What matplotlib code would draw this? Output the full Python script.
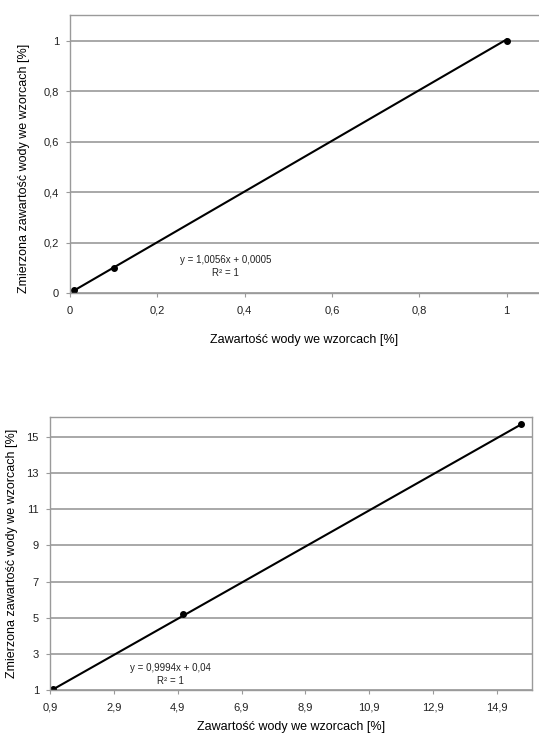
import matplotlib
matplotlib.use("Agg")
import matplotlib.pyplot as plt
import numpy as np
from matplotlib.ticker import FixedLocator, FuncFormatter

plt.rcParams['font.family'] = ['Liberation Sans Narrow', 'Liberation Sans', 'DejaVu Sans']

# Data - top chart
x1 = [0.01, 0.1, 1.0]
y1 = [0.01, 0.1, 1.0]
fit1 = (1.0056, 0.0005)
eq1 = ["y = 1,0056x + 0,0005", "R² = 1"]
xt1 = [0, 0.2, 0.4, 0.6, 0.8, 1.0]
yt1 = [0, 0.2, 0.4, 0.6, 0.8, 1.0]

# Data - bottom chart
x2 = [1.0, 5.07, 15.65]
y2 = [1.03, 5.2, 15.7]
fit2 = (0.9994, 0.04)
eq2 = ["y = 0,9994x + 0,04", "R² = 1"]
xt2 = [0.9, 2.9, 4.9, 6.9, 8.9, 10.9, 12.9, 14.9]
yt2 = [1, 3, 5, 7, 9, 11, 13, 15]

xlabel = "Zawartość wody we wzorcach [%]"
ylabel = "Zmierzona zawartość wody we wzorcach [%]"

def fmt(v, pos):
    s = ("%.1f" % v).rstrip('0').rstrip('.') if abs(v - round(v)) > 1e-9 else "%d" % round(v)
    return s.replace('.', ',')

fig = plt.figure(figsize=(5.39, 7.35), dpi=100)

grid_c = '#9a9a9a'

def style(ax, xt, yt):
    ax.xaxis.set_major_locator(FixedLocator(xt))
    ax.yaxis.set_major_locator(FixedLocator(yt))
    ax.xaxis.set_major_formatter(FuncFormatter(fmt))
    ax.yaxis.set_major_formatter(FuncFormatter(fmt))
    ax.grid(axis='y', color=grid_c, linewidth=1.2)
    ax.set_axisbelow(True)
    for s in ax.spines.values():
        s.set_color(grid_c)
        s.set_linewidth(1.0)
    ax.tick_params(axis='x', length=3, color=grid_c, labelsize=8, pad=6, labelcolor='#222222')
    ax.tick_params(axis='y', length=3, color=grid_c, labelsize=8, pad=5, labelcolor='#222222')

# Top chart
ax1 = fig.add_axes([70/539, 1-293/735, 1-70/539, (293-15)/735])
ax1.set_xlim(0, 1.074)
ax1.set_ylim(0, 1.103)
style(ax1, xt1, yt1)
ax1.spines['right'].set_visible(False)
xx = np.array([min(x1), max(x1)])
ax1.plot(xx, fit1[0]*xx + fit1[1], color='black', linewidth=1.5)
ax1.plot(x1, y1, 'o', color='black', markersize=4)
ax1.text(0.356, 0.131, eq1[0], ha='center', va='center', fontsize=7, color='#222222')
ax1.text(0.356, 0.079, eq1[1], ha='center', va='center', fontsize=7, color='#222222')
ax1.set_xlabel(xlabel, fontsize=9, labelpad=13)
ax1.set_ylabel(ylabel, fontsize=9, labelpad=8)
ax1.yaxis.set_label_coords(-0.085, 0.45)

# Bottom chart
ax2 = fig.add_axes([50/539, 1-690/735, (532-50)/539, (690-417)/735])
ax2.set_xlim(0.9, 16.0)
ax2.set_ylim(1, 16.1)
style(ax2, xt2, yt2)
xx = np.array([min(x2), max(x2)])
ax2.plot(xx, fit2[0]*xx + fit2[1], color='black', linewidth=1.5)
ax2.plot(x2, y2, 'o', color='black', markersize=4)
ax2.text(4.66, 2.22, eq2[0], ha='center', va='center', fontsize=7, color='#222222')
ax2.text(4.66, 1.5, eq2[1], ha='center', va='center', fontsize=7, color='#222222')
ax2.set_xlabel(xlabel, fontsize=9, labelpad=6)
ax2.set_ylabel(ylabel, fontsize=9, labelpad=6)

fig.savefig("out.png", dpi=100)
